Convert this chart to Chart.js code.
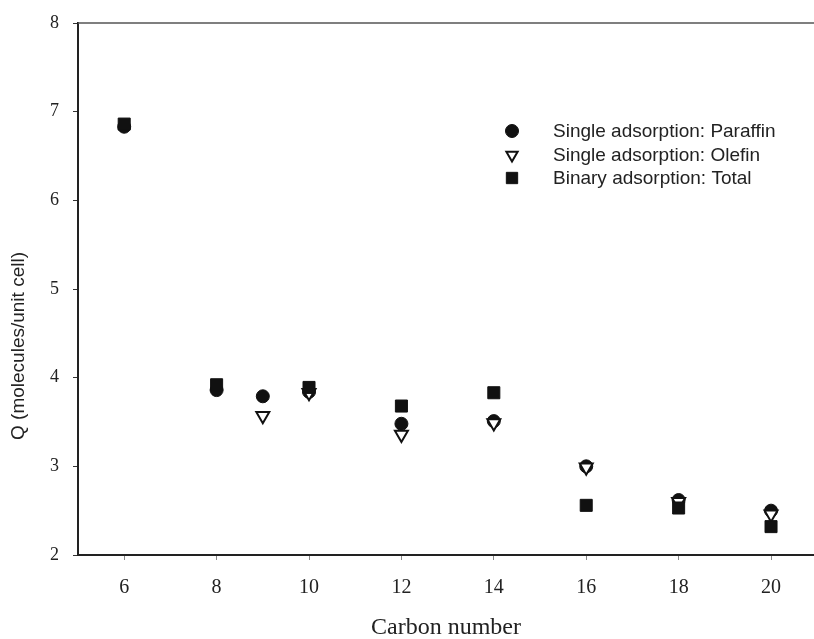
<!DOCTYPE html>
<html lang="en">
<head>
    <meta charset="UTF-8">
    <title>Adsorption capacity vs carbon number</title>
    <script src="https://cdn.jsdelivr.net/npm/chart.js@4.4.1/dist/chart.umd.min.js"></script>
    <style>
        body{
            margin: 0;
            background: #fff;
        }
        #chart{
            display: block;
        }
    </style>
</head>
<body>
    <canvas id="chart" width="814" height="639"></canvas>
    <script>
        // carbon number of each measured chain
        const carbon = [6, 8, 9, 10, 12, 14, 16, 18, 20];
        // Q, molecules per unit cell
        const paraffin = [6.83, 3.86, 3.79, 3.84, 3.48, 3.51, 3.00, 2.62, 2.50];
        const olefin = [null, null, 3.57, 3.83, 3.36, 3.49, 2.99, 2.60, 2.46];
        const total = [6.86, 3.92, null, 3.89, 3.68, 3.83, 2.56, 2.53, 2.32];

        const xTicks = [6, 8, 10, 12, 14, 16, 18, 20];
        const yTicks = [2, 3, 4, 5, 6, 7, 8];

        const seriesNames = [
            'Single adsorption: Paraffin',
            'Single adsorption: Olefin',
            'Binary adsorption: Total'
        ];

        function points(ys){
            const out = [];
            ys.forEach((y, i)=>{
                if(y !== null) out.push({x: carbon[i], y: y});
            });
            return out;
        }

        const styles = [
            {pointStyle: 'circle', radius: 6.5, rotation: 0, fill: '#111', stroke: '#111', borderWidth: 1},
            {pointStyle: 'triangle', radius: 7.5, rotation: 180, fill: '#fff', stroke: '#111', borderWidth: 2},
            {pointStyle: 'rect', radius: 8.5, rotation: 0, fill: '#111', stroke: '#111', borderWidth: 1}
        ];

        // legend sits inside the plot, upper right
        const insideLegend = {
            id: 'insideLegend',
            afterDraw(chart){
                const ctx = chart.ctx;
                ctx.save();
                ctx.font = '19px "Liberation Sans", Arial, sans-serif';
                ctx.textBaseline = 'middle';
                ctx.textAlign = 'left';
                const rows = [131, 155, 178];
                const legendMarks = [
                    {pointStyle: 'circle', radius: 6.5, rotation: 0},
                    {pointStyle: 'triangle', radius: 6.5, rotation: 180},
                    {pointStyle: 'rect', radius: 8, rotation: 0}
                ];
                seriesNames.forEach((name, i)=>{
                    ctx.fillStyle = styles[i].fill;
                    ctx.strokeStyle = styles[i].stroke;
                    ctx.lineWidth = styles[i].borderWidth;
                    Chart.helpers.drawPoint(ctx, Object.assign({borderWidth: styles[i].borderWidth}, legendMarks[i]), 512, rows[i]);
                    ctx.fillStyle = '#222';
                    ctx.fillText(name, 553, rows[i] + 1);
                });
                ctx.restore();
            }
        };

        // frame line along the top, and the axis titles
        const frameAndTitles = {
            id: 'frameAndTitles',
            afterDraw(chart){
                const ctx = chart.ctx;
                const area = chart.chartArea;
                ctx.save();
                ctx.strokeStyle = '#555';
                ctx.lineWidth = 1.5;
                ctx.beginPath();
                ctx.moveTo(area.left, area.top);
                ctx.lineTo(area.right, area.top);
                ctx.stroke();

                ctx.fillStyle = '#222';
                ctx.textAlign = 'center';
                ctx.textBaseline = 'middle';
                ctx.font = '24px "Liberation Serif", "Times New Roman", serif';
                ctx.fillText('Carbon number', 446, 628);

                ctx.translate(19, 346);
                ctx.rotate(-Math.PI / 2);
                ctx.font = '19px "Liberation Sans", Arial, sans-serif';
                ctx.fillText('Q (molecules/unit cell)', 0, 0);
                ctx.restore();
            }
        };

        const ctx = document.getElementById('chart').getContext('2d');
        const chart = new Chart(ctx, {
            type: 'scatter',
            data: {
                datasets: [paraffin, olefin, total].map((ys, i)=>({
                    label: seriesNames[i],
                    data: points(ys),
                    showLine: false,
                    pointStyle: styles[i].pointStyle,
                    pointRadius: styles[i].radius,
                    pointHoverRadius: styles[i].radius,
                    pointRotation: styles[i].rotation,
                    backgroundColor: styles[i].fill,
                    borderColor: styles[i].stroke,
                    pointBorderWidth: styles[i].borderWidth,
                    order: 3 - i
                }))
            },
            options: {
                responsive: false,
                animation: false,
                layout: {
                    autoPadding: false,
                    padding: {top: 23, right: 0, left: 0, bottom: 0}
                },
                plugins: {
                    legend: {display: false},
                    tooltip: {enabled: false}
                },
                scales: {
                    x: {
                        type: 'linear',
                        min: 5,
                        max: 20.93,
                        afterBuildTicks(scale){
                            scale.ticks = xTicks.map((v)=>({value: v}));
                        },
                        afterFit(scale){
                            scale.height = 84;
                            scale.paddingLeft = 0;
                            scale.paddingRight = 0;
                        },
                        grid: {
                            drawOnChartArea: false,
                            drawTicks: true,
                            tickLength: 5,
                            color: '#888'
                        },
                        border: {display: true, color: '#222', width: 2},
                        ticks: {
                            padding: 16,
                            color: '#222',
                            font: {family: '"Liberation Serif", "Times New Roman", serif', size: 20}
                        }
                    },
                    y: {
                        type: 'linear',
                        min: 2,
                        max: 8,
                        afterBuildTicks(scale){
                            scale.ticks = yTicks.map((v)=>({value: v}));
                        },
                        afterFit(scale){
                            scale.width = 78;
                            scale.paddingTop = 0;
                            scale.paddingBottom = 0;
                        },
                        grid: {
                            drawOnChartArea: false,
                            drawTicks: true,
                            tickLength: 5,
                            color: '#333'
                        },
                        border: {display: true, color: '#222', width: 2},
                        ticks: {
                            padding: 14,
                            color: '#222',
                            font: {family: '"Liberation Serif", "Times New Roman", serif', size: 18}
                        }
                    }
                }
            },
            plugins: [insideLegend, frameAndTitles]
        });
    </script>
</body>
</html>
